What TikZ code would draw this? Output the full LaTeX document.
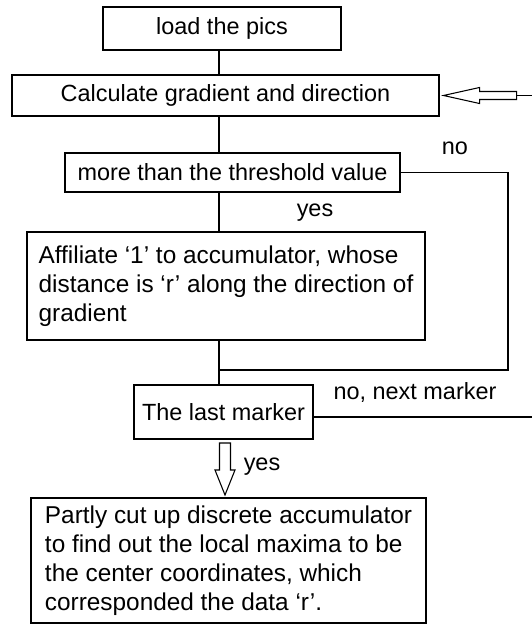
\documentclass[tikz,border=0pt]{standalone}
\usepackage{fontspec}
\setmainfont{Liberation Sans}
\usetikzlibrary{positioning, calc}

\begin{document}
\begin{tikzpicture}[
  box/.style={draw, rectangle, line width=0.9pt, inner sep=0pt, font=\fontsize{20}{24.7}\selectfont},
  textbox/.style={box, align=left, font=\fontsize{20.8}{24.9}\selectfont},
  link/.style={line width=0.9pt},
  lbl/.style={font=\fontsize{20}{24}\selectfont}]
\useasboundingbox (0,0) rectangle (15.96,18.75);
% Main steps
\node[box, minimum width=7.14cm, minimum height=1.29cm] (load) at (6.66,17.895) {load the pics};
\node[box, minimum width=12.81cm, minimum height=1.23cm] (grad) at (6.765,15.885) {Calculate gradient and direction};
\node[box, minimum width=10.05cm, minimum height=1.17cm] (thresh) at (6.975,13.575) {more than the threshold value};
\node[textbox, minimum width=11.94cm, minimum height=3.24cm] (affil) at (6.78,10.17)
  {Affiliate ‘1’ to accumulator, whose\\distance is ‘r’ along the direction of\\gradient};
\node[box, minimum width=5.37cm, minimum height=1.62cm] (last) at (6.705,6.39) {The last marker};
\node[textbox, minimum width=11.85cm, minimum height=3.75cm] (final) at (6.855,1.935)
  {Partly cut up discrete accumulator\\to find out the local maxima to be\\the center coordinates, which\\corresponded the data ‘r’.};

% Spine
\coordinate (spine) at (6.57,0);
\draw[link] (load.south -| spine) -- (grad.north -| spine);
\draw[link] (grad.south -| spine) -- (thresh.north -| spine);
\draw[link] (thresh.south -| spine) -- (affil.north -| spine);
\draw[link] (affil.south -| spine) -- (last.north -| spine);

% Loop back when below threshold
\coordinate (noturn) at (15.24,13.575);
\coordinate (nojoin) at (6.57,7.65);
\draw[link] (thresh.east) -- (noturn) -- (noturn |- nojoin) -- (nojoin);
\node[lbl] (nolbl) at (13.65,14.31) {no};
\node[lbl] (yeslbl) at (9.45,12.36) {yes};

% Next marker
\coordinate (nextend) at (15.96,6.24);
\draw[link] (last.east |- nextend) -- (nextend);
\node[lbl] (nextlbl) at (12.45,6.96) {no, next marker};

% Hollow arrow back into the gradient step
\coordinate (fbend) at (15.96,15.885);
\draw[link] ($(grad.east)+(0.12,0)$) -- ++(1.08,0.24) -- ++(0,-0.12) -- ++(1.11,0)
  -- ++(0,-0.24) -- ++(-1.11,0) -- ++(0,-0.12) -- cycle;
\draw[link] ($(grad.east)+(2.31,0)$) -- (fbend);

% Hollow arrow down to the result
\coordinate (dn) at (6.585,5.46);
\draw[link] (dn) -- ++(0.33,0) -- ++(0,-0.81) -- ++(0.135,0) -- ++(-0.3,-0.75)
  -- ++(-0.3,0.75) -- ++(0.135,0) -- cycle;
\node[lbl] (yesdn) at (7.86,4.74) {yes};
\end{tikzpicture}
\end{document}
